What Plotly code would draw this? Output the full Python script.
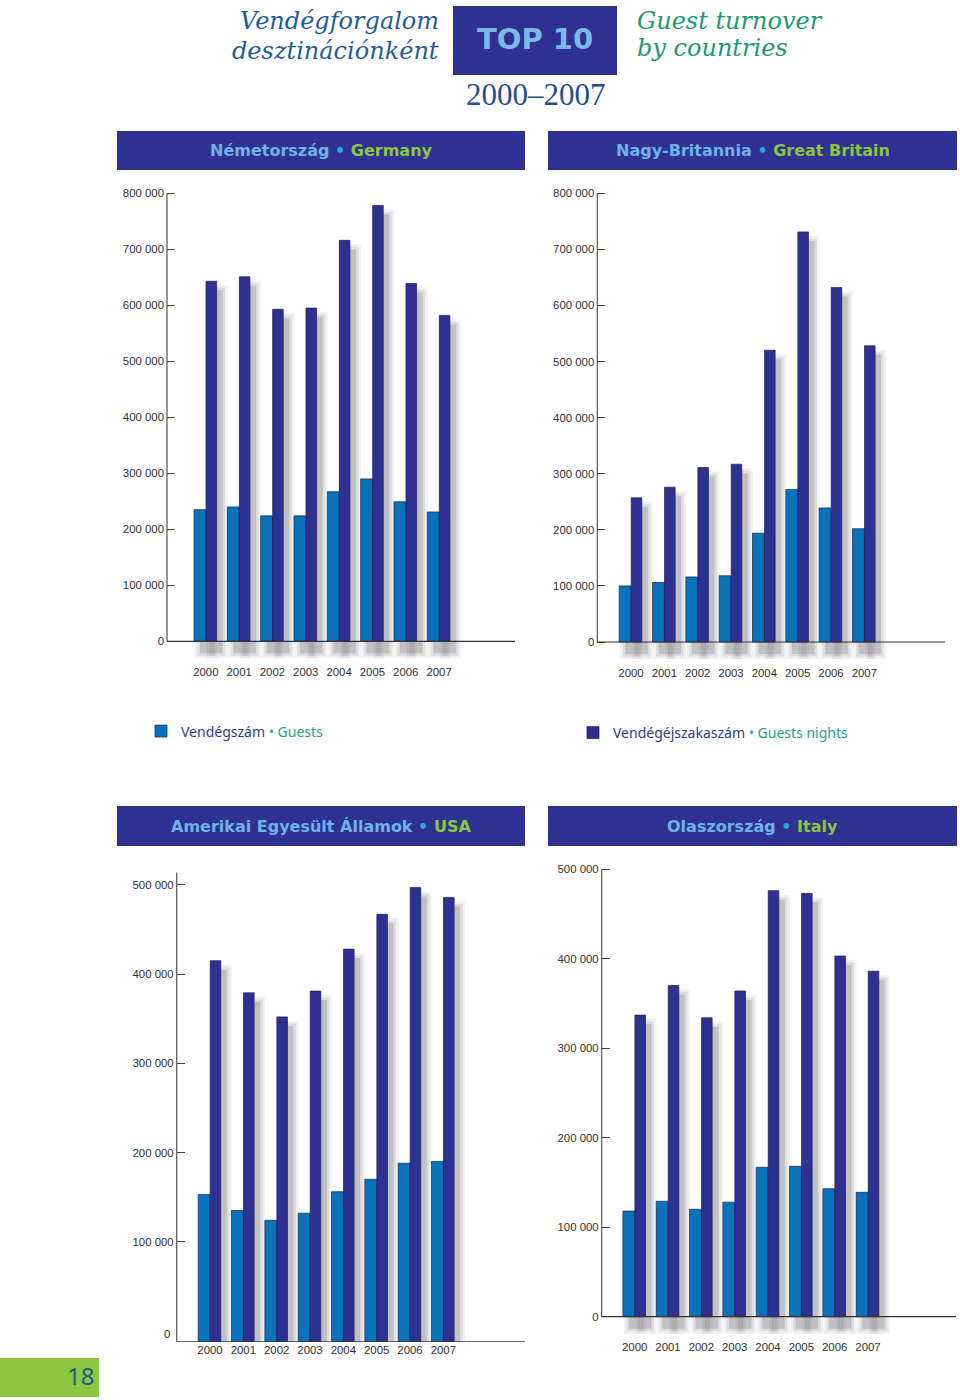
import plotly.graph_objects as go

# ---------------- data ----------------
YEARS = [2000, 2001, 2002, 2003, 2004, 2005, 2006, 2007]

GER_GUESTS = [235000, 240000, 224000, 224000, 267000, 290000, 249000, 231000]
GER_NIGHTS = [643000, 651000, 593000, 595000, 716000, 778000, 639000, 582000]
GB_GUESTS = [100000, 106000, 116000, 118000, 194000, 272000, 239000, 202000]
GB_NIGHTS = [257000, 276000, 311000, 317000, 520000, 731000, 632000, 528000]
USA_GUESTS = [153000, 135000, 124000, 132000, 156000, 170000, 188000, 190000]
USA_NIGHTS = [415000, 379000, 352000, 381000, 428000, 467000, 497000, 486000]
ITA_GUESTS = [118000, 129000, 120000, 128000, 167000, 168000, 143000, 139000]
ITA_NIGHTS = [337000, 370000, 334000, 364000, 476000, 473000, 403000, 386000]

TICKS_800K = [0, 100000, 200000, 300000, 400000, 500000, 600000, 700000, 800000]
LABELS_800K = ["0", "100 000", "200 000", "300 000", "400 000", "500 000",
               "600 000", "700 000", "800 000"]
TICKS_USA = [100000, 200000, 300000, 400000, 500000]
LABELS_USA = ["100 000", "200 000", "300 000", "400 000", "500 000"]
TICKS_ITA = [0, 100000, 200000, 300000, 400000, 500000]
LABELS_ITA = ["0", "100 000", "200 000", "300 000", "400 000", "500 000"]
YEAR_LABELS = [str(y) for y in YEARS]

# ---------------- styling / layout ----------------
W, H = 960, 1400
SP = 33.33  # px per category
C_GUEST = "#0a72ba"
C_NIGHT = "#2e3192"
C_BAND = "#2e3192"
C_HU = "#6fb3ea"
C_DOT = "#27aae1"
C_EN = "#8dc63f"
TICKFONT = dict(family="Liberation Sans, Arial, sans-serif", size=11.4, color="#333333")


def px(x):
    return x / W


def py(y):
    return 1 - y / H


PANELS = [
    dict(hu="Németország", en="Germany", guests=GER_GUESTS, nights=GER_NIGHTS,
         ticks=TICKS_800K, labels=LABELS_800K, x0=167, x1=515, c0=205.8,
         zero=641.3, ppu=56.0, base=0, line_top=800000, top=188, bottom=664,
         band=(117, 525, 131, 170)),
    dict(hu="Nagy-Britannia", en="Great Britain", guests=GB_GUESTS, nights=GB_NIGHTS,
         ticks=TICKS_800K, labels=LABELS_800K, x0=597.3, x1=945, c0=631,
         zero=642, ppu=56.1, base=0, line_top=800000, top=188, bottom=665,
         band=(548, 957, 131, 170)),
    dict(hu="Amerikai Egyesült Államok", en="USA", guests=USA_GUESTS, nights=USA_NIGHTS,
         ticks=TICKS_USA, labels=LABELS_USA, x0=176.7, x1=525, c0=210,
         zero=1330.9, ppu=89.2, base=-12200, line_top=514000, top=868, bottom=1342,
         band=(117, 525, 806, 846), zero_label=True),
    dict(hu="Olaszország", en="Italy", guests=ITA_GUESTS, nights=ITA_NIGHTS,
         ticks=TICKS_ITA, labels=LABELS_ITA, x0=601.7, x1=956, c0=634.7,
         zero=1316.7, ppu=89.5, base=0, line_top=500000, top=864, bottom=1339,
         band=(548, 957, 806, 846)),
]

GUEST_OFF, GUEST_W = -11.8, 11.8   # px
NIGHT_OFF, NIGHT_W = 0.2, 10.6     # px

fig = go.Figure()
shapes = []
annotations = []
layout = {}

for i, p in enumerate(PANELS):
    n = "" if i == 0 else str(i + 1)
    xa, ya = "x" + n, "y" + n
    u = 1e5 / p["ppu"]  # data units per px
    ymax = (p["zero"] - p["top"]) * u
    ymin = (p["zero"] - p["bottom"]) * u
    xr = [YEARS[0] - (p["c0"] - p["x0"]) / SP, YEARS[0] + (p["x1"] - p["c0"]) / SP]
    base = p["base"]

    # soft drop shadows (decorative), built from the same data
    for vals, off, wd in [(p["guests"], GUEST_OFF, GUEST_W), (p["nights"], NIGHT_OFF, NIGHT_W)]:
        for expand, alpha in [(0, 0.17), (2.5, 0.11), (5, 0.07)]:
            sbase = base - (12 + expand) * u
            tops = [v - (9 - expand) * u for v in vals]
            fig.add_trace(go.Bar(
                x=YEARS, y=[t - sbase for t in tops], base=sbase,
                offset=(off + 6 - expand) / SP, width=(wd + 2 * expand) / SP,
                marker=dict(color=f"rgba(60,60,70,{alpha})", line=dict(width=0)),
                xaxis=xa, yaxis=ya, showlegend=False, hoverinfo="skip"))

    fig.add_trace(go.Bar(
        x=YEARS, y=[v - base for v in p["guests"]], base=base,
        offset=GUEST_OFF / SP, width=GUEST_W / SP,
        marker=dict(color=C_GUEST, line=dict(color="#12235a", width=0.7)),
        name=("Vendégszám <span style='color:%s'>•</span> "
              "<span style='color:#1aa586'>Guests</span>" % C_DOT),
        legend="legend", showlegend=(i == 0), xaxis=xa, yaxis=ya))
    fig.add_trace(go.Bar(
        x=YEARS, y=[v - base for v in p["nights"]], base=base,
        offset=NIGHT_OFF / SP, width=NIGHT_W / SP,
        marker=dict(color=C_NIGHT, line=dict(color="#1a1c5a", width=0.7)),
        name=("Vendégéjszakaszám <span style='color:%s'>•</span> "
              "<span style='color:#1aa586'>Guests nights</span>" % C_DOT),
        legend="legend2", showlegend=(i == 0), xaxis=xa, yaxis=ya))

    layout["xaxis" + n] = dict(
        domain=[px(p["x0"]), px(p["x1"])], range=xr, anchor=ya,
        tickvals=YEARS, ticktext=YEAR_LABELS, ticks="", showgrid=False,
        zeroline=False, showline=False, fixedrange=True, tickfont=TICKFONT)
    layout["yaxis" + n] = dict(
        domain=[py(p["bottom"]), py(p["top"])], range=[ymin, ymax], anchor=xa,
        tickvals=p["ticks"], ticktext=p["labels"], ticks="inside", ticklen=8,
        tickwidth=1, tickcolor="#444444", showgrid=False, zeroline=False,
        showline=False, fixedrange=True, ticklabelstandoff=2, tickfont=TICKFONT)

    # axis lines
    shapes.append(dict(type="line", xref=xa + " domain", yref=ya, x0=0, x1=0,
                       y0=base, y1=p["line_top"], line=dict(color="#555555", width=1.2),
                       layer="above"))
    shapes.append(dict(type="line", xref=xa + " domain", yref=ya, x0=0, x1=1,
                       y0=base, y1=base, line=dict(color="#333333", width=1.2),
                       layer="above"))
    if p.get("zero_label"):
        annotations.append(dict(xref=xa + " domain", yref=ya, x=0, y=0, xshift=-5,
                                yshift=-3, text="0", showarrow=False, xanchor="right",
                                yanchor="middle", font=TICKFONT))

    # header band
    bx0, bx1, by0, by1 = p["band"]
    shapes.append(dict(type="rect", xref="paper", yref="paper", x0=px(bx0), x1=px(bx1),
                       y0=py(by1), y1=py(by0), fillcolor=C_BAND, line=dict(width=0)))
    annotations.append(dict(
        xref="paper", yref="paper", x=px((bx0 + bx1) / 2), y=py((by0 + by1) / 2),
        xanchor="center", yanchor="middle", showarrow=False,
        text=("<b><span style='color:%s'>%s</span> <span style='color:%s'>•</span> "
              "<span style='color:%s'>%s</span></b>" % (C_HU, p["hu"], C_DOT, C_EN, p["en"])),
        font=dict(family="DejaVu Sans", size=16)))

# ---------------- page titles ----------------
shapes.append(dict(type="rect", xref="paper", yref="paper", x0=px(453), x1=px(617),
                   y0=py(75), y1=py(6), fillcolor=C_BAND, line=dict(width=0)))
annotations += [
    dict(xref="paper", yref="paper", x=px(535), y=py(39), text="<b>TOP 10</b>",
         showarrow=False, xanchor="center", yanchor="middle",
         font=dict(family="DejaVu Sans", size=29, color="#7cb9e8")),
    dict(xref="paper", yref="paper", x=px(441), y=py(21), text="<i>Vendégforgalom</i>",
         showarrow=False, xanchor="right", yanchor="middle",
         font=dict(family="DejaVu Serif", size=24, color="#1f5c9e")),
    dict(xref="paper", yref="paper", x=px(441), y=py(51), text="<i>desztinációnként</i>",
         showarrow=False, xanchor="right", yanchor="middle",
         font=dict(family="DejaVu Serif", size=24, color="#1f5c9e")),
    dict(xref="paper", yref="paper", x=px(635), y=py(21), text="<i>Guest turnover</i>",
         showarrow=False, xanchor="left", yanchor="middle",
         font=dict(family="DejaVu Serif", size=24, color="#1a9a70")),
    dict(xref="paper", yref="paper", x=px(635), y=py(48), text="<i>by countries</i>",
         showarrow=False, xanchor="left", yanchor="middle",
         font=dict(family="DejaVu Serif", size=24, color="#1a9a70")),
    dict(xref="paper", yref="paper", x=px(536), y=py(95), text="2000–2007",
         showarrow=False, xanchor="center", yanchor="middle",
         font=dict(family="Liberation Serif", size=31, color="#1d4f91")),
    dict(xref="paper", yref="paper", x=px(96), y=py(1375), text="18",
         showarrow=False, xanchor="right", yanchor="middle",
         font=dict(family="Noto Sans", size=24, color="#1a5b8c")),
]
shapes.append(dict(type="rect", xref="paper", yref="paper", x0=0, x1=px(99),
                   y0=py(1397), y1=py(1358), fillcolor="#8dc63f", line=dict(width=0)))

legend_font = dict(family="Noto Sans", size=14, color="#27418f")
fig.update_layout(
    width=W, height=H, margin=dict(l=0, r=0, t=0, b=0),
    paper_bgcolor="white", plot_bgcolor="rgba(0,0,0,0)",
    barmode="overlay", shapes=shapes, annotations=annotations,
    legend=dict(x=px(141), y=py(715.5), xanchor="left", yanchor="top",
                font=legend_font, bgcolor="rgba(0,0,0,0)", itemclick=False,
                itemdoubleclick=False),
    legend2=dict(x=px(573), y=py(717), xanchor="left", yanchor="top",
                 font=legend_font, bgcolor="rgba(0,0,0,0)", itemclick=False,
                 itemdoubleclick=False),
    **layout,
)

fig.write_html(
    "out.html",
    config={"displayModeBar": False},
    post_script="document.body.style.margin='0';document.body.style.overflow='hidden';",
)
